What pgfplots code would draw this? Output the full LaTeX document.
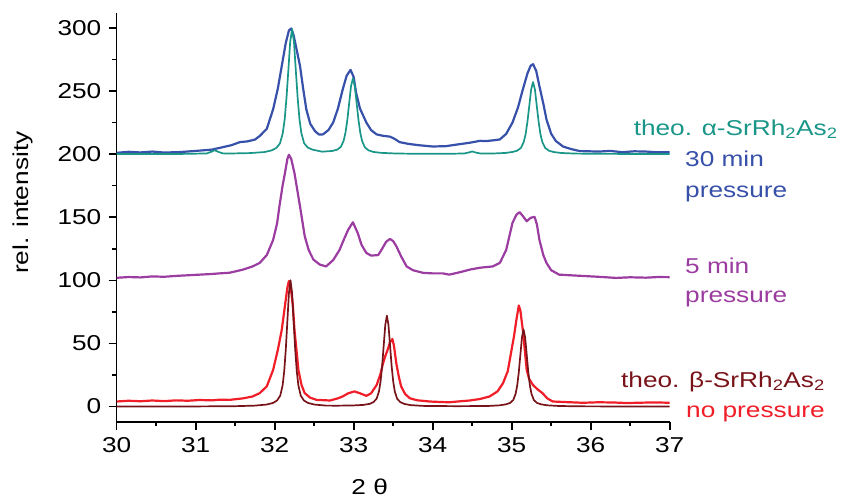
\documentclass[border=0pt]{standalone}
\usepackage{fontspec}
\setmainfont{Liberation Sans}[FakeStretch=1.22]
\usepackage{pgfplots}
\pgfplotsset{compat=1.18}
\definecolor{cteal}{RGB}{25,150,135}
\definecolor{cblue}{RGB}{55,80,170}
\definecolor{cpurple}{RGB}{155,60,160}
\definecolor{cred}{RGB}{240,30,40}
\definecolor{cdred}{RGB}{120,20,25}
\begin{document}
\fontsize{21.5}{26}\selectfont
\begin{tikzpicture}
\useasboundingbox (-116.7pt,-77.3pt) rectangle (725.3pt,421.7pt);
\begin{axis}[
  scale only axis, width=553pt, height=409pt,
  xmin=30, xmax=37, ymin=-12, ymax=312,
  axis x line*=bottom, axis y line*=left,
  axis line style={line width=1.6pt,-},
  xtick={30,31,32,33,34,35,36,37},
  ytick={0,50,100,150,200,250,300},
  minor x tick num=1, minor y tick num=1,
  tick align=outside,
  major tick length=8pt, minor tick length=4.5pt,
  every tick/.style={line width=1.6pt, black},
  /pgf/number format/assume math mode=true,
  /pgf/number format/1000 sep={},
  ticklabel style={font=\fontsize{21.5}{26}\selectfont},
  clip=false,
  line join=round,
]
% 5 min pressure
\addplot[cpurple, line width=2.2pt] coordinates {
(30.00,102) (30.15,102.6) (30.30,102.3) (30.45,103.1) (30.60,102.8) (30.75,103.5) (30.90,104) (31.05,104.5) (31.20,105) (31.30,105.5) (31.43,106)
(31.60,108.5) (31.72,111) (31.81,113.8) (31.90,120) (31.98,132) (32.03,145) (32.06,158.7) (32.10,175) (32.13,185) (32.16,196) (32.18,199.5)
(32.21,196) (32.25,185) (32.29,170) (32.32,158.7) (32.38,135) (32.43,124) (32.49,116.4) (32.57,112.5) (32.65,111) (32.74,116) (32.82,124)
(32.88,133) (32.93,140) (32.99,146) (33.05,137.6) (33.10,128) (33.16,121.7) (33.22,119.6) (33.31,120) (33.36,125) (33.41,130.5) (33.46,132.8)
(33.50,131) (33.54,127) (33.60,119) (33.67,111) (33.75,108) (33.88,105.9) (34.00,105.5) (34.13,105.5) (34.21,104.5) (34.35,106.5) (34.47,108.5)
(34.60,110) (34.76,111) (34.85,113.8) (34.93,124) (35.01,145.5) (35.06,152) (35.10,154) (35.14,151) (35.19,146.8) (35.24,149.5) (35.29,150.3)
(35.32,144) (35.35,132.3) (35.40,120) (35.44,113.8) (35.50,108) (35.60,104.5) (35.80,103.8) (35.98,103.2) (36.15,102.6) (36.32,101.9) (36.50,102.4)
(36.70,102.1) (36.85,102.6) (37.00,102.5)
};
% no pressure
\addplot[cred, line width=2.2pt] coordinates {
(30.00,4) (30.15,4.6) (30.30,4.2) (30.45,4.8) (30.60,4.3) (30.75,4.9) (30.90,4.6) (31.05,5.2) (31.20,4.9) (31.30,5.4) (31.43,5.3) (31.60,6.5) (31.72,8)
(31.81,10.6) (31.90,16) (31.98,29) (32.04,45) (32.09,61) (32.13,80) (32.16,94) (32.18,99.5) (32.20,96) (32.23,80) (32.25,61) (32.28,42)
(32.30,29) (32.34,17) (32.38,10.6) (32.45,7) (32.53,5.3) (32.70,4.8) (32.80,6.5) (32.86,8) (32.93,10.5) (33.01,12) (33.08,10.5) (33.16,8.5)
(33.22,10.5) (33.29,17) (33.34,26) (33.37,34) (33.40,40) (33.43,45) (33.46,51) (33.49,53.5) (33.51,48) (33.54,34) (33.57,24) (33.60,16)
(33.65,10) (33.71,6.6) (33.80,5) (33.96,4) (34.10,3.6) (34.21,3.4) (34.35,4.2) (34.47,4.8) (34.60,6) (34.72,8) (34.82,12) (34.89,18.5) (34.95,28)
(34.99,42) (35.03,56) (35.06,69) (35.09,80) (35.11,76) (35.14,61) (35.17,42) (35.19,29) (35.22,22) (35.27,17) (35.33,13.5) (35.39,10.6)
(35.45,6.5) (35.52,4) (35.70,3.5) (35.90,3) (36.10,3.4) (36.30,3.2) (36.45,2.8) (36.60,3) (36.80,3.3) (37.00,3)
};
% theo beta
\addplot[cdred, line width=1.7pt] coordinates {
(30.00,0) (31.00,0.1) (31.50,0.3) (31.75,0.74) (31.90,1.6) (31.98,2.9) (32.03,4.8) (32.07,8.6) (32.10,16.7) (32.12,27.6) (32.14,44.7)
(32.16,67.3) (32.18,89.8) (32.20,100) (32.22,89.8) (32.24,67.3) (32.26,44.7) (32.28,27.6) (32.30,16.7) (32.33,8.6) (32.37,4.8) (32.42,2.9)
(32.50,1.6) (32.65,0.74) (32.80,0.7) (33.00,0.9) (33.12,1.3) (33.20,2.1) (33.25,3.5) (33.29,6.2) (33.32,12.0) (33.34,19.9) (33.36,32.2) (33.38,48.5)
(33.40,64.7) (33.42,72) (33.44,64.7) (33.46,48.5) (33.48,32.2) (33.50,19.9) (33.52,12.0) (33.55,6.2) (33.59,3.5) (33.64,2.1) (33.72,1.15)
(33.87,0.53) (34.30,0.3) (34.70,0.45) (34.85,0.98) (34.93,1.8) (34.98,2.9) (35.02,5.2) (35.05,10.2) (35.07,16.8) (35.09,27.3) (35.11,41.1)
(35.13,54.8) (35.15,61) (35.17,54.8) (35.19,41.1) (35.21,27.3) (35.23,16.8) (35.25,10.2) (35.28,5.2) (35.32,2.9) (35.37,1.8) (35.45,0.98)
(35.60,0.45) (35.85,0.18) (36.50,0.05) (37.00,0)
};
% 30 min pressure
\addplot[cblue, line width=2.2pt] coordinates {
(30.00,201) (30.15,201.8) (30.30,201.3) (30.45,202) (30.60,201.2) (30.80,201.6) (31.00,202.5) (31.20,203.5) (31.31,205) (31.45,207) (31.56,209.5)
(31.65,210) (31.75,211.5) (31.81,214.3) (31.90,220) (31.98,235.5) (32.04,252) (32.09,270) (32.14,288) (32.18,298) (32.21,299.5) (32.24,294)
(32.28,282) (32.32,270) (32.36,252) (32.40,235.5) (32.45,224) (32.51,218.2) (32.56,215.5) (32.61,215.6) (32.68,219) (32.74,225) (32.80,236)
(32.86,251) (32.91,262) (32.96,266.7) (33.00,261) (33.03,248.6) (33.08,236) (33.16,225) (33.22,219) (33.29,215.6) (33.37,214.5) (33.46,213.8)
(33.52,212) (33.58,209.5) (33.70,208) (33.83,207) (34.00,206) (34.17,206.3) (34.30,207.5) (34.47,209) (34.60,210.5) (34.68,210.3) (34.78,211)
(34.85,211.6) (34.93,216) (35.01,225) (35.08,237) (35.14,251) (35.20,264) (35.24,270) (35.27,271.2) (35.31,266) (35.35,254) (35.40,240)
(35.44,227.5) (35.50,216) (35.56,210.3) (35.65,206) (35.75,204) (35.86,202.4) (36.10,202) (36.25,202.5) (36.40,201.5) (36.55,202.2) (36.70,202) (36.85,201.4) (37.00,201.5)
};
% theo alpha
\addplot[cteal, line width=1.7pt] coordinates {
(30.00,200) (30.80,200.1) (31.14,200.5) (31.20,201.9) (31.24,203.1) (31.28,201.9) (31.34,200.6) (31.39,200.4) (31.69,200.8) (31.87,201.6)
(31.96,202.9) (32.02,204.8) (32.067,208.5) (32.102,216.5) (32.126,227.3) (32.149,244.3) (32.173,266.6) (32.196,288.9) (32.22,299)
(32.244,288.9) (32.267,266.6) (32.291,244.3) (32.314,227.3) (32.338,216.5) (32.373,208.5) (32.42,205.1) (32.48,203.5) (32.60,201.9)
(32.73,202.5) (32.79,203.5) (32.837,205.7) (32.872,210.4) (32.896,217) (32.919,226.8) (32.943,240.4) (32.966,253.9) (32.99,260)
(33.014,253.9) (33.037,240.4) (33.061,226.8) (33.084,216.6) (33.108,210) (33.143,205.2) (33.19,202.9) (33.25,201.7) (33.34,201) (33.52,200.5)
(33.82,200.2) (34.20,200.2) (34.40,200.5) (34.46,201.3) (34.50,202.1) (34.54,201.3) (34.60,200.5) (34.74,200.4) (34.92,200.9) (35.01,201.7)
(35.07,202.7) (35.117,204.9) (35.152,209.5) (35.176,215.7) (35.199,225.5) (35.223,238.4) (35.246,251.2) (35.27,257) (35.294,251.2)
(35.317,238.4) (35.341,225.5) (35.364,215.7) (35.388,209.5) (35.423,204.9) (35.47,202.7) (35.53,201.65) (35.62,200.9) (35.80,200.4)
(36.10,200.2) (37.00,200)
};
\end{axis}
\node[cteal, anchor=base east, inner sep=0pt] at (721pt,286.7pt) {theo. α-SrRh\textsubscript{2}As\textsubscript{2}};
\node[cblue, anchor=base west, inner sep=0pt] at (568.3pt,255pt) {30 min};
\node[cblue, anchor=base west, inner sep=0pt] at (568.3pt,224.7pt) {pressure};
\node[cpurple, anchor=base west, inner sep=0pt] at (568.3pt,148.4pt) {5 min};
\node[cpurple, anchor=base west, inner sep=0pt] at (568.3pt,119pt) {pressure};
\node[cdred, anchor=base east, inner sep=0pt] at (708.3pt,34.4pt) {theo. β-SrRh\textsubscript{2}As\textsubscript{2}};
\node[cred, anchor=base west, inner sep=0pt] at (569.3pt,4.4pt) {no pressure};
\node[rotate=90, inner sep=0pt] at (-93.7pt,219pt) {rel. intensity};
\node[anchor=base, inner sep=0pt] at (253pt,-73pt) {2 θ};
\end{tikzpicture}
\end{document}
